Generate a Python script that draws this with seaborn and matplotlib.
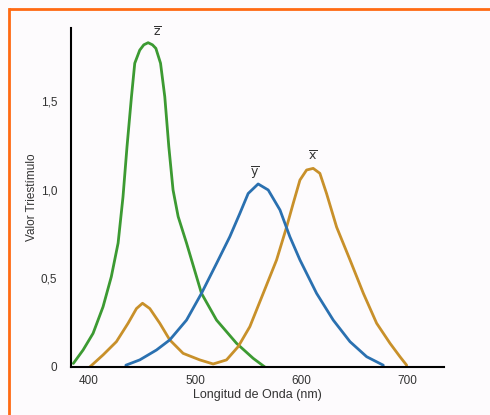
import matplotlib
matplotlib.use("Agg")
import matplotlib.pyplot as plt
import seaborn as sns
from matplotlib.lines import Line2D

# Curva z (verde)
z_nm = [385.2, 394.4, 403.8, 413.2, 421, 427.4, 432, 435.8, 440, 443.1, 447.8,
        451.6, 455.7, 459.8, 463, 467.4, 471.4, 475.2, 479.2, 484, 491.9, 506,
        520.2, 539, 554.7, 565.7]
z_val = [0.02, 0.096, 0.19, 0.34, 0.51, 0.70, 0.96, 1.245, 1.527, 1.716, 1.79,
         1.82, 1.832, 1.82, 1.80, 1.716, 1.527, 1.245, 1.0, 0.85, 0.70, 0.416,
         0.265, 0.134, 0.049, 0.0]

# Curva y (azul)
y_nm = [434.7, 447.8, 463.6, 476.1, 491.9, 506, 520.2, 532.7, 542.2, 550, 559.4,
        568.9, 580, 589.3, 598.8, 614.5, 630.2, 646, 661.7, 677.4]
y_val = [0.01, 0.04, 0.096, 0.153, 0.265, 0.416, 0.585, 0.736, 0.868, 0.98, 1.034,
         1.0, 0.887, 0.736, 0.605, 0.416, 0.265, 0.143, 0.058, 0.01]

# Curva x (dorada), con su lobulo pequeno
x_nm = [400.7, 413.2, 425.8, 436.8, 444.7, 450.4, 457.3, 466.7, 476.1, 488.7,
        504.4, 517, 529.6, 540.6, 551.6, 564.2, 576.8, 586.2, 592.5, 598.8,
        605.1, 611.3, 617.6, 623.9, 633.4, 646, 658.6, 671.1, 683.7, 693.1, 699.4]
x_val = [0.0, 0.068, 0.143, 0.247, 0.33, 0.36, 0.33, 0.247, 0.153, 0.077,
         0.04, 0.017, 0.04, 0.115, 0.228, 0.416, 0.605, 0.79, 0.925, 1.056,
         1.113, 1.122, 1.094, 0.98, 0.79, 0.605, 0.416, 0.247, 0.134, 0.058, 0.01]

x_ticks = [400, 500, 600, 700]
y_ticks = [0, 0.5, 1.0, 1.5]
y_ticklabels = ["0", "0,5", "1,0", "1,5"]

sns.set_style("white")
plt.rcParams["font.family"] = ["Liberation Sans", "DejaVu Sans"]
plt.rcParams["mathtext.fontset"] = "dejavusans"

fig = plt.figure(figsize=(4.9, 4.15), dpi=100)
fig.patch.set_facecolor("#fdfbfd")
fig.patch.set_edgecolor("none")
fig.patch.set_linewidth(0)
ax = fig.add_axes([0.1449, 0.1157, 0.9061 - 0.1449, 0.9325 - 0.1157])
ax.set_facecolor("#fdfbfd")

lw = 2.0
sns.lineplot(x=z_nm, y=z_val, ax=ax, color="#3c9a32", lw=lw, sort=False)
sns.lineplot(x=x_nm, y=x_val, ax=ax, color="#c8902a", lw=lw, sort=False)
sns.lineplot(x=y_nm, y=y_val, ax=ax, color="#2a70b0", lw=lw, sort=False)
for ln in ax.lines:
    ln.set_solid_joinstyle("round")
    ln.set_solid_capstyle("round")

ax.set_xlim(383, 734.6)
ax.set_ylim(0, 1.915)
ax.set_xticks(x_ticks)
ax.set_yticks(y_ticks)
ax.set_yticklabels(y_ticklabels)
ax.tick_params(direction="in", length=5, width=1.5, colors="black",
               labelcolor="#333333", labelsize=8.5)
ax.tick_params(axis="x", pad=6)
ax.tick_params(axis="y", pad=10)

for s in ["top", "right"]:
    ax.spines[s].set_visible(False)
for s in ["left", "bottom"]:
    ax.spines[s].set_color("black")
    ax.spines[s].set_linewidth(1.5)

ax.set_xlabel("Longitud de Onda (nm)", fontsize=9, color="#333333", labelpad=1)
ax.set_ylabel("Valor Triestímulo", fontsize=8.5, color="#333333", labelpad=2)

lab = dict(fontsize=9, color="#333333", ha="center", va="center")
ax.text(464.5, 1.89, r"$\overline{\mathrm{z}}$", **lab)
ax.text(556, 1.10, r"$\overline{\mathrm{y}}$", **lab)
ax.text(611, 1.19, r"$\overline{\mathrm{x}}$", **lab)

# marco naranja (solo se ven los lados izquierdo y superior)
bx, by = 9 / 490, 1 - 9 / 415
fig.add_artist(Line2D([bx, bx], [-0.05, by], transform=fig.transFigure,
                      color="#ff6a13", lw=2.0, solid_capstyle="projecting"))
fig.add_artist(Line2D([bx, 0.9995], [by, by], transform=fig.transFigure,
                      color="#ff6a13", lw=2.0, solid_capstyle="butt"))

fig.savefig("out.png", dpi=100)
